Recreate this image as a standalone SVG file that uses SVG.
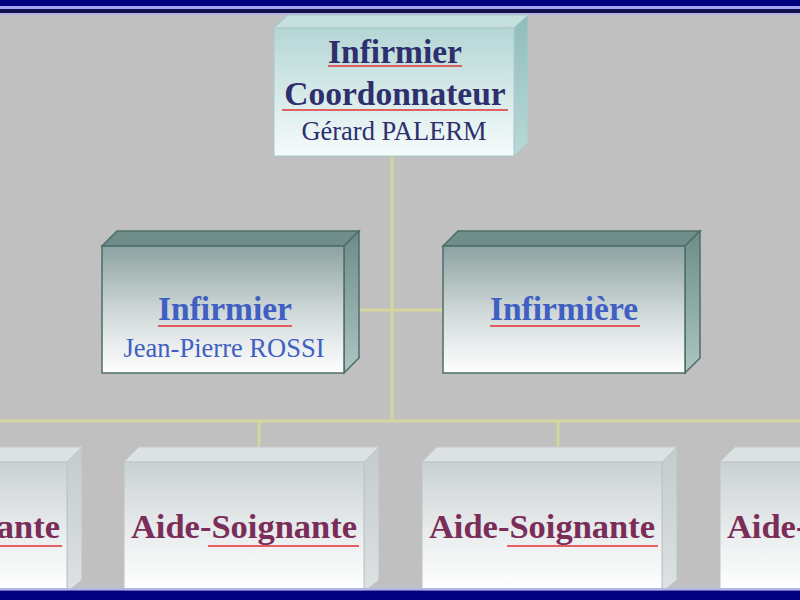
<svg xmlns="http://www.w3.org/2000/svg" width="800" height="600" viewBox="0 0 800 600">
<style>
.t-top{font-family:"Liberation Serif","Times New Roman",serif;fill:#2e2f6c;text-anchor:middle}
.t-mid{font-family:"Liberation Serif","Times New Roman",serif;fill:#3f5fc2;text-anchor:middle}
.t-bot{font-family:"Liberation Serif","Times New Roman",serif;fill:#7a2d58;text-anchor:middle;font-weight:bold;font-size:34.5px}
.b{font-weight:bold;font-size:33.5px}
.r{font-size:26.5px}
.conn{stroke:#d5d59e;stroke-width:3;fill:none}
.wave{fill:url(#wave)}
.f1{fill:url(#g1front);stroke:#a9caca;stroke-width:1}
.t1{fill:#c6e0de;stroke:#a9caca;stroke-width:1}
.s1{fill:url(#g1side);stroke:#a9caca;stroke-width:1}
.f2{fill:url(#g2front);stroke:#4f6c68;stroke-width:1.5}
.t2{fill:#6f8d89;stroke:#4f6c68;stroke-width:1.5}
.s2{fill:url(#g2side);stroke:#4f6c68;stroke-width:1.5}
.f3{fill:url(#g3front);stroke:#bcc4c6;stroke-width:1}
.t3{fill:#dce1e3;stroke:#c8cfd1;stroke-width:1}
.s3{fill:url(#g3side);stroke:#bcc4c6;stroke-width:1}
</style>
<defs>
<linearGradient id="g1front" x1="0" y1="0" x2="0" y2="1">
<stop offset="0" stop-color="#b4d6d5"/><stop offset="1" stop-color="#f6fbfb"/>
</linearGradient>
<linearGradient id="g1side" x1="0" y1="0" x2="0" y2="1">
<stop offset="0" stop-color="#8fbdbc"/><stop offset="1" stop-color="#b9d9d8"/>
</linearGradient>
<linearGradient id="g2front" x1="0" y1="0" x2="0" y2="1">
<stop offset="0" stop-color="#8ca3a1"/><stop offset="0.5" stop-color="#cdd6d6"/><stop offset="1" stop-color="#ffffff"/>
</linearGradient>
<linearGradient id="g2side" x1="0" y1="0" x2="0" y2="1">
<stop offset="0" stop-color="#6c8c88"/><stop offset="1" stop-color="#adc6c2"/>
</linearGradient>
<linearGradient id="g3front" x1="0" y1="0" x2="0" y2="1">
<stop offset="0" stop-color="#cbd1d3"/><stop offset="0.6" stop-color="#eceff0"/><stop offset="1" stop-color="#ffffff"/>
</linearGradient>
<linearGradient id="g3side" x1="0" y1="0" x2="0" y2="1">
<stop offset="0" stop-color="#c3cbcd"/><stop offset="1" stop-color="#dde2e3"/>
</linearGradient>
<pattern id="wave" patternUnits="userSpaceOnUse" width="4" height="4">
<path d="M0,3 L1,1 L2,3 L3,1 L4,3" stroke="#e03c3c" stroke-width="1" fill="none"/>
</pattern>
</defs>
<rect x="0" y="0" width="800" height="600" fill="#c0c0c0"/>
<g id="frame">
<rect x="0" y="0" width="800" height="6" fill="#000080"/>
<rect x="0" y="6" width="800" height="3" fill="#a4a4ea"/>
<rect x="0" y="9" width="800" height="4" fill="#12124e"/>
<rect x="0" y="13" width="800" height="2" fill="#b4b4e2"/>
</g>
<g id="connectors">
<line class="conn" x1="392" y1="156" x2="392" y2="422"/>
<line class="conn" x1="359" y1="310" x2="443" y2="310"/>
<line class="conn" x1="0" y1="421" x2="800" y2="421"/>
<line class="conn" x1="259" y1="421" x2="259" y2="447"/>
<line class="conn" x1="558" y1="421" x2="558" y2="447"/>
</g>
<g id="node-coordonnateur">
<polygon class="t1" points="274,28 288,15 528,15 514,28"/>
<polygon class="s1" points="514,28 528,15 528,143 514,156"/>
<rect class="f1" x="274" y="28" width="240" height="128"/>
<text class="t-top b" x="395" y="63">Infirmier</text>
<rect class="wave" x="328" y="64" width="134" height="4"/>
<text class="t-top b" x="395" y="105">Coordonnateur</text>
<rect class="wave" x="282" y="108" width="226" height="4"/>
<text class="t-top r" x="394" y="140">Gérard PALERM</text>
</g>
<g id="node-infirmier">
<polygon class="t2" points="102,246 117,231 359,231 344,246"/>
<polygon class="s2" points="344,246 359,231 359,358 344,373"/>
<rect class="f2" x="102" y="246" width="242" height="127"/>
<text class="t-mid b" x="225" y="320">Infirmier</text>
<rect class="wave" x="158" y="324" width="134" height="4"/>
<text class="t-mid r" x="224" y="357">Jean-Pierre ROSSI</text>
</g>
<g id="node-infirmiere">
<polygon class="t2" points="443,246 458,231 700,231 685,246"/>
<polygon class="s2" points="685,246 700,231 700,358 685,373"/>
<rect class="f2" x="443" y="246" width="242" height="127"/>
<text class="t-mid b" x="564" y="320">Infirmière</text>
<rect class="wave" x="490" y="324" width="150" height="4"/>
</g>
<g id="node-aide1">
<polygon class="t3" points="-173,462 -158,447 82,447 67,462"/>
<polygon class="s3" points="67,462 82,447 82,580 67,592"/>
<rect class="f3" x="-173" y="462" width="240" height="130"/>
<text class="t-bot" x="-53" y="538">Aide-Soignante</text>
<rect class="wave" x="0" y="544" width="62" height="4"/>
</g>
<g id="node-aide2">
<polygon class="t3" points="124,462 139,447 379,447 364,462"/>
<polygon class="s3" points="364,462 379,447 379,580 364,592"/>
<rect class="f3" x="124" y="462" width="240" height="130"/>
<text class="t-bot" x="244" y="538">Aide-Soignante</text>
<rect class="wave" x="208" y="544" width="151" height="4"/>
</g>
<g id="node-aide3">
<polygon class="t3" points="422,462 437,447 677,447 662,462"/>
<polygon class="s3" points="662,462 677,447 677,580 662,592"/>
<rect class="f3" x="422" y="462" width="240" height="130"/>
<text class="t-bot" x="542" y="538">Aide-Soignante</text>
<rect class="wave" x="507" y="544" width="151" height="4"/>
</g>
<g id="node-aide4">
<polygon class="t3" points="720,462 735,447 975,447 960,462"/>
<polygon class="s3" points="960,462 975,447 975,580 960,592"/>
<rect class="f3" x="720" y="462" width="240" height="130"/>
<text class="t-bot" x="840" y="538">Aide-Soignante</text>
</g>
<g id="frame-bottom">
<rect x="0" y="588" width="800" height="2.5" fill="#b4b4e8"/>
<rect x="0" y="590.5" width="800" height="9.5" fill="#000080"/>
</g>
</svg>
